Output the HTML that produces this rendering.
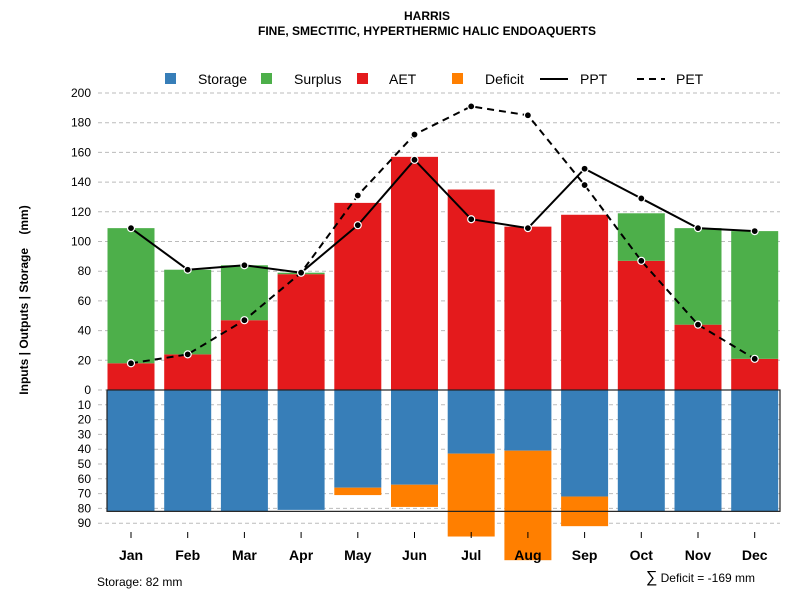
<!DOCTYPE html>
<html><head><meta charset="utf-8"><style>
body{margin:0;background:#fff}
svg{font-family:"Liberation Sans",Arial,sans-serif;display:block}
</style></head><body>
<svg id="c" width="800" height="600" viewBox="0 0 800 600">
<text x="427" y="20" text-anchor="middle" font-size="12" font-weight="bold">HARRIS</text>
<text x="427" y="35" text-anchor="middle" font-size="12" font-weight="bold">FINE, SMECTITIC, HYPERTHERMIC HALIC ENDOAQUERTS</text>
<text transform="translate(28,300) rotate(-90)" text-anchor="middle" font-size="12" font-weight="bold" style="white-space:pre">Inputs | Outputs | Storage    (mm)</text>
<g id="grid"></g>
<g id="bars"></g>
<g id="lines"></g>
<g id="axes"></g>
<g font-size="14">
<rect x="165" y="73" width="11" height="11" fill="#377EB8"/>
<text x="198" y="84">Storage</text>
<rect x="261" y="73" width="11" height="11" fill="#4DAF4A"/>
<text x="294" y="84">Surplus</text>
<rect x="357" y="73" width="11" height="11" fill="#E41A1C"/>
<text x="389" y="84">AET</text>
<rect x="452" y="73" width="11" height="11" fill="#FF7F00"/>
<text x="485" y="84">Deficit</text>
<line x1="540" y1="79" x2="568" y2="79" stroke="#000" stroke-width="2"/>
<text x="580" y="84">PPT</text>
<line x1="637" y1="79" x2="665" y2="79" stroke="#000" stroke-width="2" stroke-dasharray="7,5"/>
<text x="676" y="84">PET</text>
</g>
<text x="97" y="586" font-size="12">Storage: 82 mm</text>
<text x="755" y="582" font-size="12" text-anchor="end"><tspan font-size="16">∑</tspan> Deficit = -169 mm</text>
</svg>
<script>
const months=["Jan","Feb","Mar","Apr","May","Jun","Jul","Aug","Sep","Oct","Nov","Dec"];
const aet=[18,24,47,78,126,157,135,110,118,87,44,21];
const surplus=[91,57,37,1,0,0,0,0,0,32,65,86];
const ppt=[109,81,84,79,111,155,115,109,149,129,109,107];
const pet=[18,24,47,79,131,172,191,185,138,87,44,21];
const storage=[82,82,82,81,66,64,43,41,72,82,82,82];
const deficit=[0,0,0,0,5,15,56,74,20,0,0,0];
const upTicks=[0,20,40,60,80,100,120,140,160,180,200];
const downTicks=[10,20,30,40,50,60,70,80,90];
const maxStorage=82;
const NS="http://www.w3.org/2000/svg";
const y0=390, kUp=1.485, kDn=1.48;
const yU=v=>y0-v*kUp, yD=v=>y0+v*kDn;
const xC=i=>131+i*56.7, bw=47;
function mk(p,t,a){const e=document.createElementNS(NS,t);for(const k in a)e.setAttribute(k,a[k]);p.appendChild(e);return e;}
const G=document.getElementById('grid'),B=document.getElementById('bars'),L=document.getElementById('lines'),A=document.getElementById('axes');
upTicks.forEach(v=>{
  const l=mk(G,'line',{x1:98,x2:780,y1:yU(v),y2:yU(v),stroke:'#bbb','stroke-dasharray':'4,3'});
  
  
  const t=mk(A,'text',{x:91,y:yU(v)+4,'text-anchor':'end','font-size':12});t.textContent=v;
  
  
});
downTicks.forEach(v=>{
  const l=mk(G,'line',{x1:98,x2:780,y1:yD(v),y2:yD(v),stroke:'#bbb','stroke-dasharray':'4,3'});
  
  
  const t=mk(A,'text',{x:91,y:yD(v)+4,'text-anchor':'end','font-size':12});t.textContent=v;
  
  
});
months.forEach((m,i)=>{
  const x=xC(i)-bw/2;
  let r=mk(B,'rect',{x:x,y:yU(aet[i]),width:bw,height:aet[i]*kUp,fill:'#E41A1C'});
  
  
  if(surplus[i]>0){r=mk(B,'rect',{x:x,y:yU(aet[i]+surplus[i]),width:bw,height:surplus[i]*kUp,fill:'#4DAF4A'});
  
  }
  r=mk(B,'rect',{x:x,y:y0,width:bw,height:storage[i]*kDn,fill:'#377EB8'});
  
  
  if(deficit[i]>0){r=mk(B,'rect',{x:x,y:yD(storage[i]),width:bw,height:deficit[i]*kDn,fill:'#FF7F00'});
  
  }
  const tk=mk(A,'line',{x1:xC(i),x2:xC(i),y1:532,y2:538,stroke:'#000'});
  
  
  const t=mk(A,'text',{x:xC(i),y:560,'text-anchor':'middle','font-size':14,'font-weight':'bold'});t.textContent=m;
  
  
});
const box=mk(B,'rect',{x:107,y:y0,width:673,height:maxStorage*kDn,fill:'none',stroke:'#222','stroke-width':1.2});


function series(vals,dash,name){
  const p=mk(L,'polyline',{points:vals.map((v,i)=>xC(i)+','+yU(v)).join(' '),fill:'none',stroke:'#000','stroke-width':2});
  if(dash)p.setAttribute('stroke-dasharray','7,5');
  
  
  vals.forEach((v,i)=>{const c=mk(L,'circle',{cx:xC(i),cy:yU(v),r:3.5,fill:'#000',stroke:'#fff','stroke-width':1.2});
  
  });
}
series(pet,true,'pet');
series(ppt,false,'ppt');
</script>
</body></html>
